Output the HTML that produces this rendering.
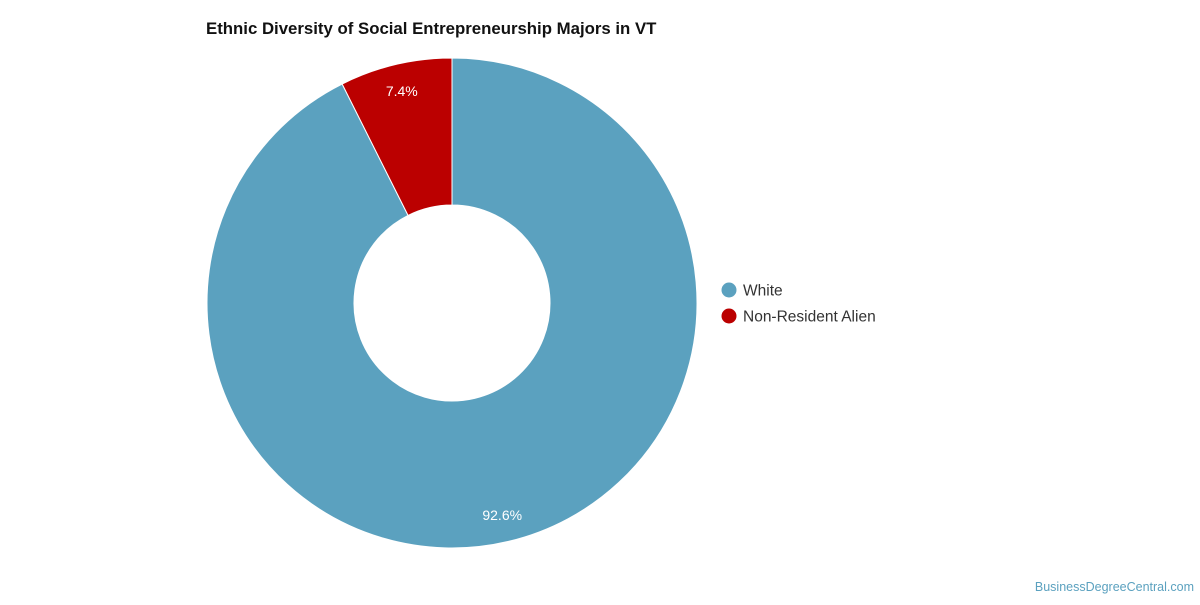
<!DOCTYPE html>
<html><head><meta charset="utf-8"><style>
body{margin:0;width:1200px;height:600px;background:#fff;font-family:"Liberation Sans",sans-serif;overflow:hidden}
</style></head><body>
<svg width="1200" height="600">
<text x="206" y="34" font-size="16.8" font-weight="bold" fill="#111">Ethnic Diversity of Social Entrepreneurship Majors in VT</text>
<g id="slices"></g>
<g id="legend"></g>
<text x="1194" y="591" text-anchor="end" font-size="12.5" fill="#5ba1bf">BusinessDegreeCentral.com</text>
</svg>
<script>
const categories=["White","Non-Resident Alien"];
const values=[92.6,7.4];
const colors=["#5ba1bf","#bb0000"];
const cx=452,cy=303,R=245,r=98;
const ns="http://www.w3.org/2000/svg";
const g=document.getElementById('slices');
const total=values.reduce((a,b)=>a+b,0);
let start=0;
function pt(a,rad){return [cx+rad*Math.sin(a),cy-rad*Math.cos(a)];}
values.forEach((v,i)=>{
 const sw=v/total*2*Math.PI;
 const a0=start,a1=start+sw;
 const large=sw>Math.PI?1:0;
 const p0=pt(a0,R),p1=pt(a1,R),q1=pt(a1,r),q0=pt(a0,r);
 const p=document.createElementNS(ns,'path');
 p.setAttribute('d',`M${p0} A${R},${R} 0 ${large} 1 ${p1} L${q1} A${r},${r} 0 ${large} 0 ${q0} Z`);
 p.setAttribute('fill',colors[i]);p.setAttribute('stroke','#fff');p.setAttribute('stroke-width','1');
 
 
 g.appendChild(p);
 const mid=(a0+a1)/2,lp=pt(mid,R-27);
 const t=document.createElementNS(ns,'text');
 t.setAttribute('x',lp[0]);t.setAttribute('y',lp[1]+5);t.setAttribute('text-anchor','middle');
 t.setAttribute('font-size','14');t.setAttribute('fill','#fff');
 t.textContent=v.toFixed(1)+'%';
 
 
 g.appendChild(t);
 start=a1;
});
const lg=document.getElementById('legend');
categories.forEach((c,i)=>{
 const y=290+i*26;
 const ci=document.createElementNS(ns,'circle');
 ci.setAttribute('cx',729);ci.setAttribute('cy',y);ci.setAttribute('r',7.5);ci.setAttribute('fill',colors[i]);
 
 
 lg.appendChild(ci);
 const t=document.createElementNS(ns,'text');
 t.setAttribute('x',743);t.setAttribute('y',y+5.5);t.setAttribute('font-size','15.5');t.setAttribute('fill','#333');
 t.textContent=c;
 
 
 lg.appendChild(t);
});
</script>
</body></html>
